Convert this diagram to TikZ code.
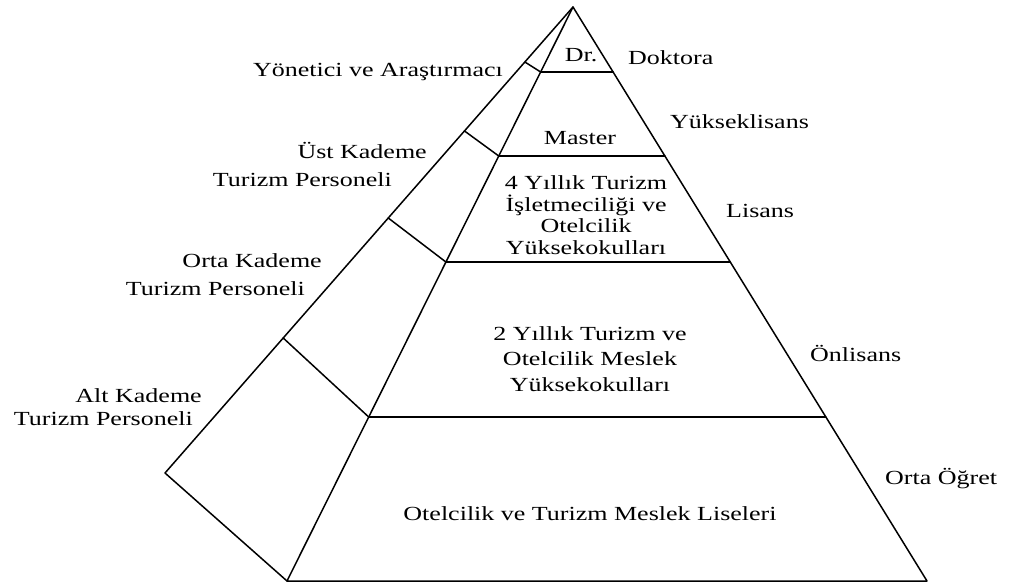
\documentclass[tikz,border=0pt]{standalone}
\usepackage{fontspec}
\setmainfont{Liberation Serif}[FakeStretch=1.3]
\usetikzlibrary{calc}
\begin{document}
\begin{tikzpicture}[x=1pt,y=-1pt,
  edge/.style={line width=1.5pt, line join=round, line cap=round},
  lbl/.style={inner sep=0pt, font=\fontsize{20}{22}\selectfont},
  blk/.style={lbl, align=center}]
\useasboundingbox[fill=white] (0,0) rectangle (1009,586);
% corners of the pyramid
\coordinate (A)  at (573,7);
\coordinate (BL) at (165,473);
\coordinate (FL) at (287,581);
\coordinate (FR) at (927,581);
% level points on the front edges and on the back-left edge
\foreach \n/\t/\s in {1/0.1132/0.118, 2/0.2596/0.266, 3/0.4443/0.4528, 4/0.7143/0.7103}{
  \coordinate (L\n) at ($(A)!\t!(FL)$);
  \coordinate (R\n) at ($(A)!\t!(FR)$);
  \coordinate (B\n) at ($(A)!\s!(BL)$);
}
% outline
\draw[edge] (A) -- (FL) -- (FR) -- cycle;
\draw[edge] (A) -- (BL) -- (FL);
% levels
\foreach \n in {1,...,4}{
  \draw[edge] (L\n) -- (R\n);
  \draw[edge] (B\n) -- (L\n);
}
% texts inside the front face
\node[lbl, anchor=base] (dr) at (581,62) {Dr.};
\node[lbl, anchor=base] (master) at (580,144) {Master};
\node[blk, anchor=north, font=\fontsize{20}{21.7}\selectfont] (lisansblk) at (586,175.3)
  {4 Yıllık Turizm\\İşletmeciliği ve\\Otelcilik\\Yüksekokulları};
\node[blk, anchor=north, font=\fontsize{20}{25.5}\selectfont] (onlisansblk) at (590,326.3)
  {2 Yıllık Turizm ve\\Otelcilik Meslek\\Yüksekokulları};
\node[lbl, anchor=base] (lise) at (590,520) {Otelcilik ve Turizm Meslek Liseleri};
% degree labels on the right
\node[lbl, anchor=base west] (doktora) at (628,64) {Doktora};
\node[lbl, anchor=base west] (ylisans) at (670,128) {Yükseklisans};
\node[lbl, anchor=base west] (lisans) at (726,217) {Lisans};
\node[lbl, anchor=base west] (onlisans) at (810,361) {Önlisans};
\node[lbl, anchor=base west] (ortaogr) at (885,484) {Orta Öğret};
% staff labels on the left
\node[lbl, anchor=base east] (yonetici) at (503,77) {Yönetici ve Araştırmacı};
\node[lbl, anchor=base east] (ust1) at (427,158) {Üst Kademe};
\node[lbl, anchor=base east] (ust2) at (392,186) {Turizm Personeli};
\node[lbl, anchor=base east] (orta1) at (322,267) {Orta Kademe};
\node[lbl, anchor=base east] (orta2) at (305,295) {Turizm Personeli};
\node[lbl, anchor=base east] (alt1) at (202,402) {Alt Kademe};
\node[lbl, anchor=base east] (alt2) at (193,425) {Turizm Personeli};
\end{tikzpicture}
\end{document}
